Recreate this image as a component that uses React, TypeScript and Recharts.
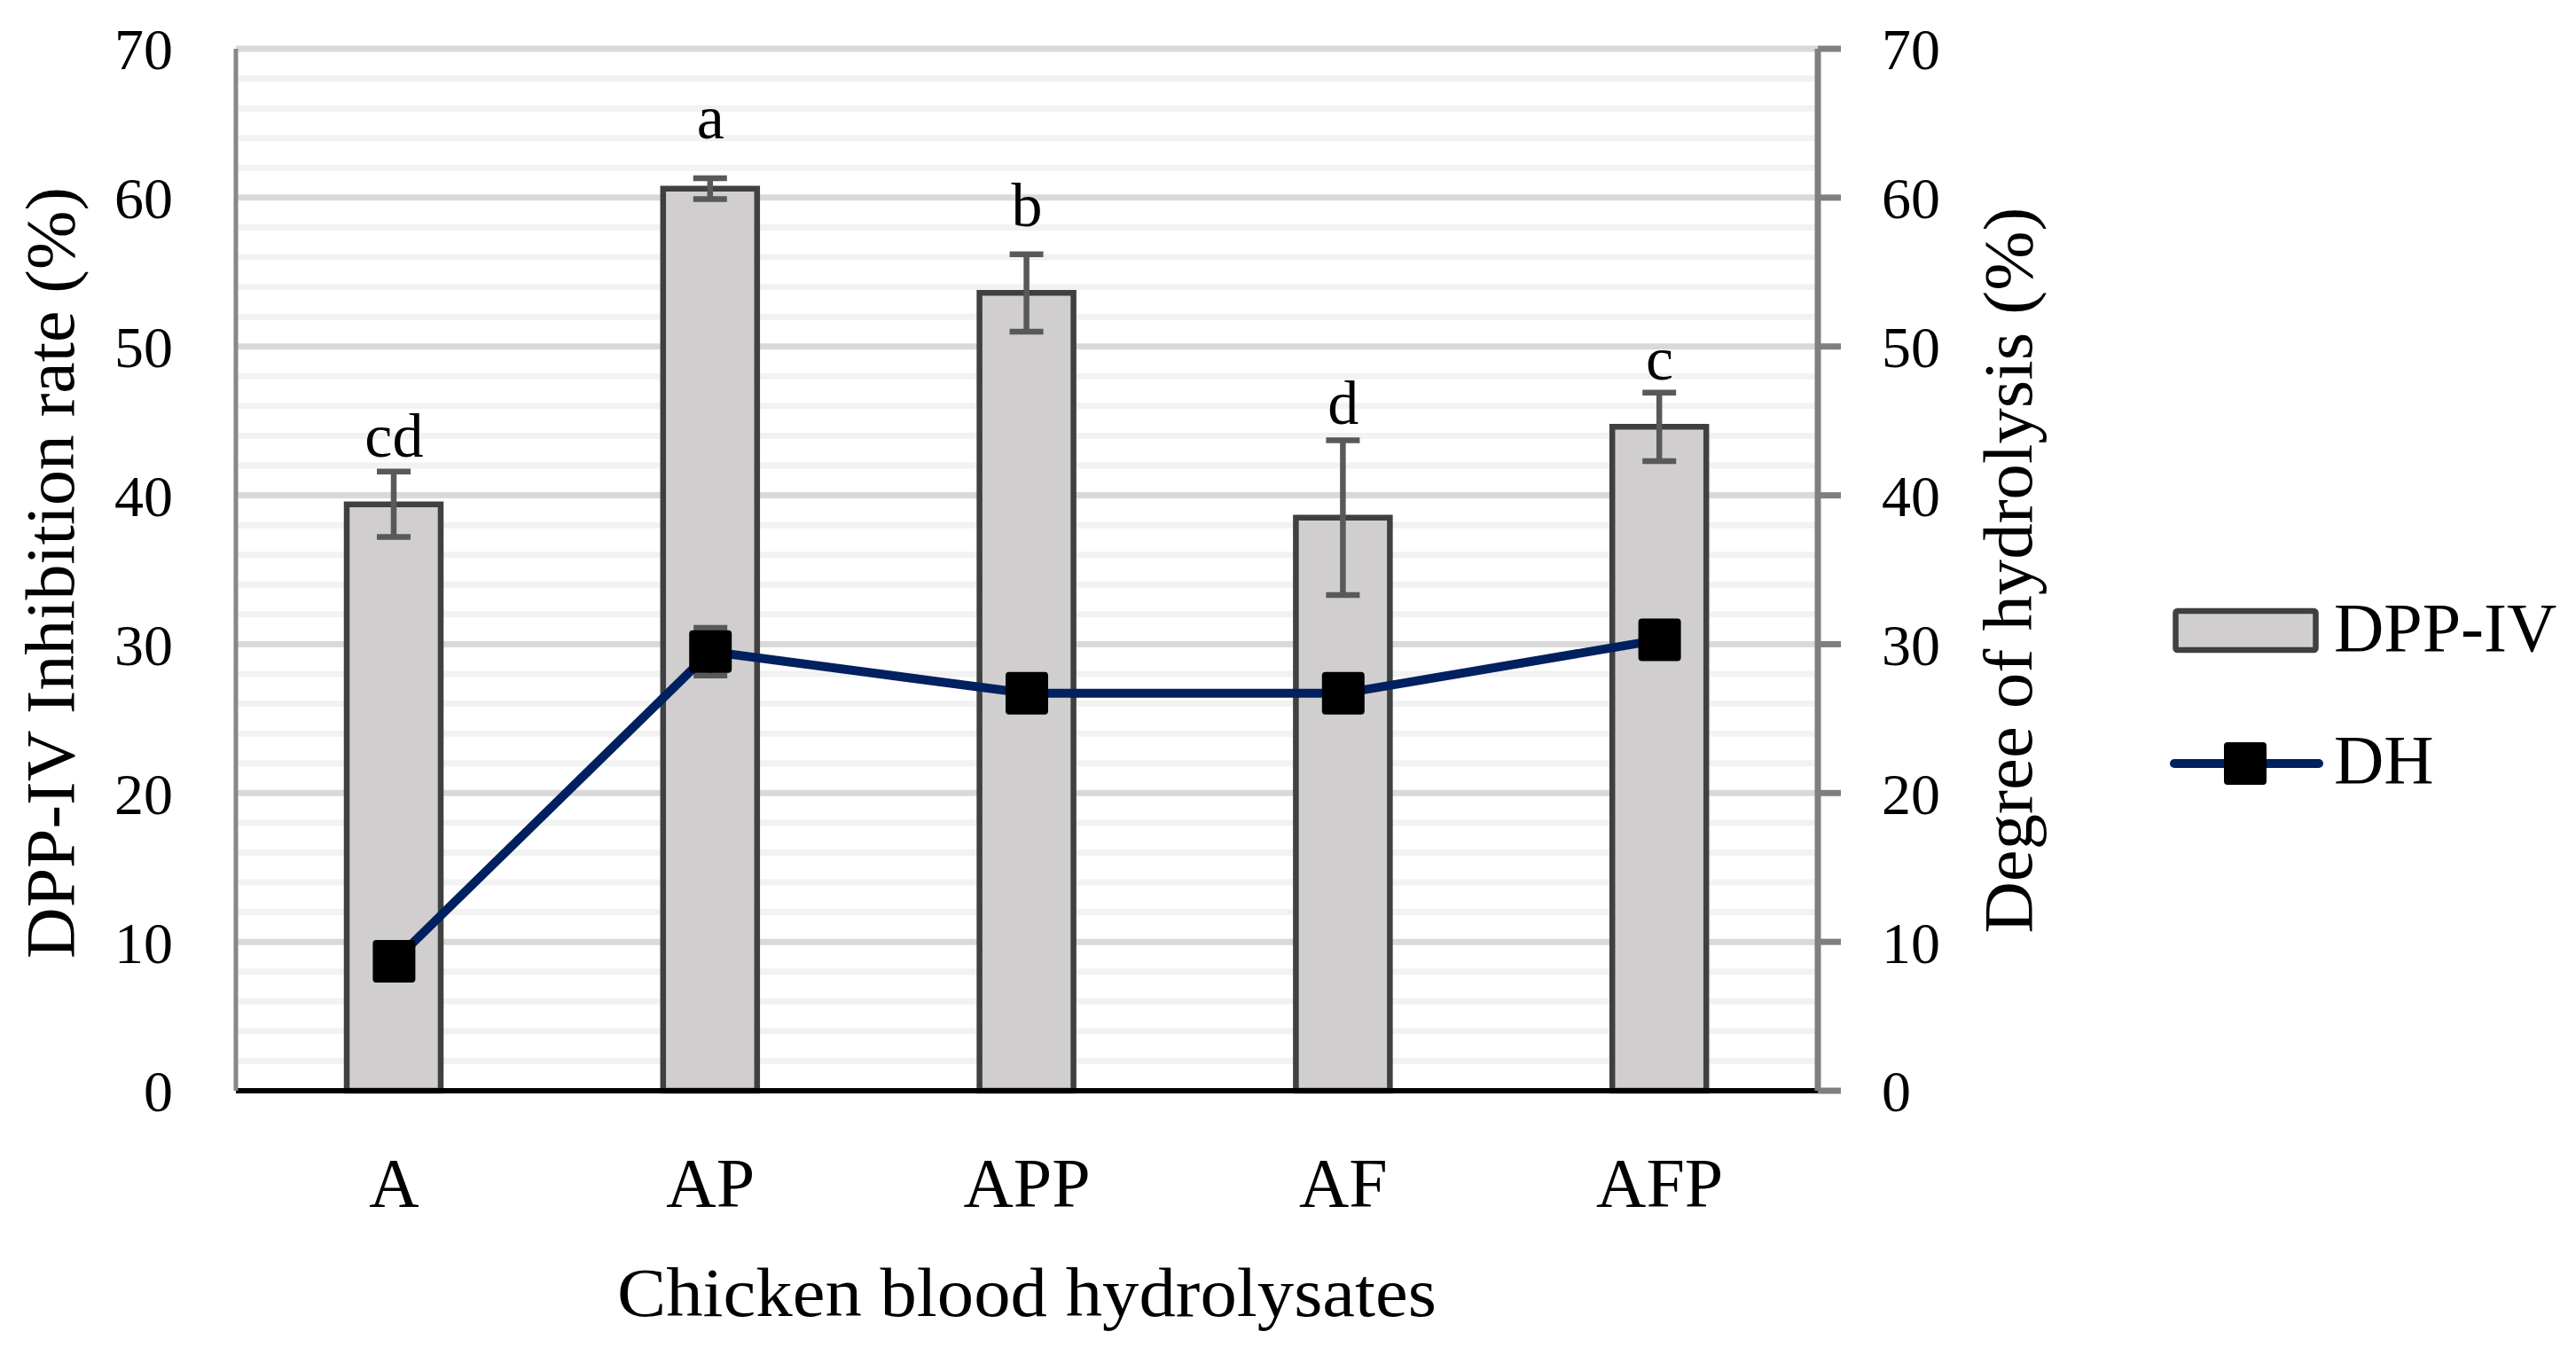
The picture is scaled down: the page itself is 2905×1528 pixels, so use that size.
import React from 'react'
import {
  ComposedChart, Bar, Line, XAxis, YAxis, CartesianGrid, ErrorBar, Legend, ReferenceDot,
} from 'recharts'

const categories = ['A', 'AP', 'APP', 'AF', 'AFP']
const dppIV = [39.4, 60.6, 53.6, 38.5, 44.6]
const dppErr = [2.2, 0.7, 2.6, 5.2, 2.3]
const dh = [8.7, 29.5, 26.7, 26.7, 30.3]
const dhErr = [0.6, 1.6, 0.7, 0.6, 0.8]
const letters = ['cd', 'a', 'b', 'd', 'c']
const letterY = [42.6, 64.0, 58.1, 44.8, 47.8]

const ticks = [0, 10, 20, 30, 40, 50, 60, 70]
const majorGrid = [10, 20, 30, 40, 50, 60, 70]
const minorGrid = [2, 4, 6, 8, 12, 14, 16, 18, 22, 24, 26, 28, 32, 34, 36, 38, 42, 44, 46, 48, 52, 54, 56, 58, 62, 64, 66, 68]

const FONT = '"Liberation Serif", "Times New Roman", serif'
const BAR_FILL = '#d0cece'
const BAR_EDGE = '#404040'
const NAVY = '#002060'
const ERR = '#595959'
const AXIS_GRAY = '#7f7f7f'

const data = categories.map((c, i) => ({
  name: c,
  dpp: dppIV[i],
  dppErr: dppErr[i],
  dh: dh[i],
  dhErr: dhErr[i],
}))

const SquareDot = (props: any) => {
  const { cx, cy, index } = props
  if (cx == null || cy == null) return null
  return <rect key={`dot-${index}`} x={cx - 24} y={cy - 24} width={48} height={48} rx={4} fill="#000" />
}

const LegendBox = () => (
  <svg width={468} height={240} style={{ display: 'block', overflow: 'visible' }}>
    <rect x={16.5} y={22} width={158} height={44} fill={BAR_FILL} stroke={BAR_EDGE} strokeWidth={6.5} rx={2} />
    <text x={195} y={67} fontFamily={FONT} fontSize={78} fill="#000">DPP-IV</text>
    <line x1={15} y1={194} x2={178} y2={194} stroke={NAVY} strokeWidth={10} strokeLinecap="round" />
    <rect x={71} y={170} width={48} height={48} rx={4} fill="#000" />
    <text x={195} y={216} fontFamily={FONT} fontSize={78} fill="#000">DH</text>
  </svg>
)

export default function App() {
  return (
    <div style={{ position: 'absolute', left: 0, top: 0, width: 2905, height: 1528, background: '#fff' }}>
      <ComposedChart
        width={2905}
        height={1528}
        data={data}
        margin={{ top: 55, right: 0, bottom: 0, left: 0 }}
        barCategoryGap={0}
      >
        <CartesianGrid yAxisId="left" vertical={false} stroke="#f2f2f2" strokeWidth={7} horizontalValues={minorGrid} />
        <CartesianGrid yAxisId="left" vertical={false} stroke="#d9d9d9" strokeWidth={7} horizontalValues={majorGrid} />
        <XAxis
          dataKey="name"
          height={298}
          tickLine={false}
          tickSize={0}
          tickMargin={75}
          axisLine={{ stroke: '#000', strokeWidth: 6 }}
          tick={{ fontFamily: FONT, fontSize: 78, fill: '#000' }}
          label={{
            content: ({ viewBox }: any) => (
              <text x={viewBox.x + viewBox.width / 2} y={viewBox.y + 254} textAnchor="middle"
                textLength={924} lengthAdjust="spacingAndGlyphs"
                fontFamily={FONT} fontSize={78} fill="#000">Chicken blood hydrolysates</text>
            ),
          }}
        />
        <YAxis
          yAxisId="left"
          width={266}
          domain={[0, 70]}
          ticks={ticks}
          interval={0}
          tickLine={false}
          tickSize={0}
          tickMargin={71}
          axisLine={{ stroke: '#878787', strokeWidth: 5 }}
          tick={{ fontFamily: FONT, fontSize: 66, fill: '#000' }}
          label={{
            content: () => (
              <text x={83} y={646} transform="rotate(-90, 83, 646)" textAnchor="middle"
                textLength={870} lengthAdjust="spacingAndGlyphs"
                fontFamily={FONT} fontSize={78} fill="#000">DPP-IV Inhibition rate (%)</text>
            ),
          }}
        />
        <YAxis
          yAxisId="right"
          orientation="right"
          width={855}
          domain={[0, 70]}
          ticks={ticks}
          interval={0}
          tickSize={26}
          tickMargin={46}
          tickLine={{ stroke: AXIS_GRAY, strokeWidth: 7 }}
          axisLine={{ stroke: AXIS_GRAY, strokeWidth: 7 }}
          tick={{ fontFamily: FONT, fontSize: 66, fill: '#000' }}
          label={{
            content: () => (
              <text x={2291} y={643} transform="rotate(-90, 2291, 643)" textAnchor="middle"
                textLength={819} lengthAdjust="spacingAndGlyphs"
                fontFamily={FONT} fontSize={78} fill="#000">Degree of hydrolysis (%)</text>
            ),
          }}
        />
        <Bar yAxisId="left" dataKey="dpp" name="DPP-IV" barSize={106} fill={BAR_FILL}
          stroke={BAR_EDGE} strokeWidth={6.5} isAnimationActive={false}>
          <ErrorBar dataKey="dppErr" width={19} stroke={ERR} strokeWidth={6.5} direction="y" />
        </Bar>
        <Line yAxisId="right" type="linear" dataKey="dh" name="DH" stroke={NAVY} strokeWidth={10}
          dot={SquareDot} activeDot={false} isAnimationActive={false}>
          <ErrorBar dataKey="dhErr" width={19} stroke={ERR} strokeWidth={6.5} direction="y" />
        </Line>
        {categories.map((c, i) => (
          <ReferenceDot
            key={c}
            yAxisId="left"
            x={c}
            y={letterY[i]}
            r={0}
            fill="none"
            stroke="none"
            label={{
              content: ({ viewBox }: any) => (
                <text x={viewBox.x + (viewBox.width || 0) / 2} y={viewBox.y + (viewBox.height || 0) / 2}
                  textAnchor="middle" fontFamily={FONT} fontSize={70} fill="#000">{letters[i]}</text>
              ),
            }}
          />
        ))}
        <Legend
          layout="vertical"
          align="center"
          verticalAlign="middle"
          wrapperStyle={{ left: 2437, top: 667, width: 468, height: 240 }}
          content={() => <LegendBox />}
        />
      </ComposedChart>
    </div>
  )
}
